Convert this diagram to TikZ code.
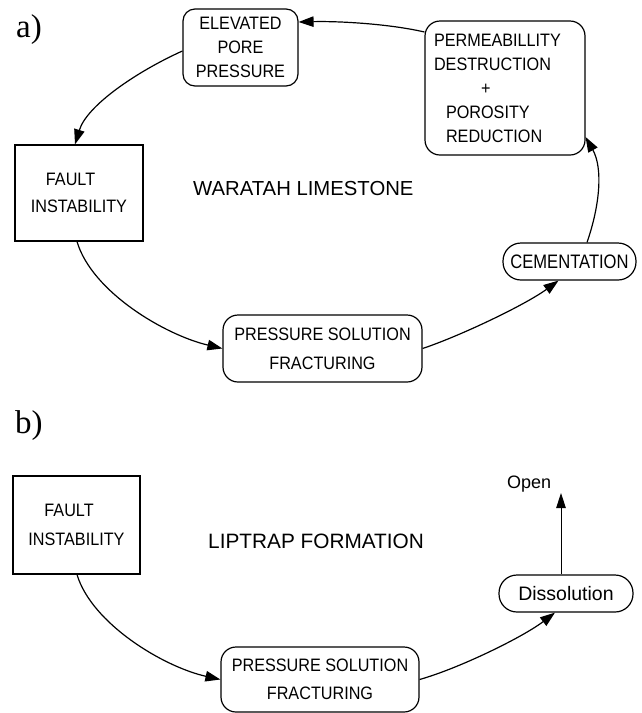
\documentclass[tikz,border=0pt]{standalone}
\usepackage{fontspec}
\setmainfont{Liberation Sans}
\newfontfamily\labelserif{Liberation Serif}
\newfontfamily\narrowsans[FakeStretch=0.9]{Liberation Sans}
\newfontfamily\tightsans[FakeStretch=0.85]{Liberation Sans}
\usetikzlibrary{arrows.meta}

\tikzset{
  boxfont/.style={font=\narrowsans\fontsize{18}{#1}\selectfont},
  sqbox/.style={draw, line width=1.2pt, inner sep=0pt},
  rbox/.style={draw, line width=1.2pt, inner sep=0pt, rounded corners=#1},
  rbox/.default=15pt,
  pill/.style={draw, line width=1.2pt, inner sep=0pt, rounded corners=18pt},
  flow/.style={line width=1.2pt, -{Triangle[length=15pt,width=10.5pt]}},
  thinflow/.style={line width=0.9pt, -{Triangle[length=15pt,width=9.5pt]}},
  title/.style={anchor=base west, inner sep=0pt, font=\fontsize{#1}{24}\selectfont},
  partlabel/.style={anchor=base west, inner sep=0pt, font=\labelserif\fontsize{33}{36}\selectfont}
}

\begin{document}
\begin{tikzpicture}[x=1pt, y=-1pt]
\useasboundingbox (0,0) rectangle (642,713);

% ---------- a) Waratah Limestone cycle ----------
\node[partlabel] (labA) at (16,37) {a)};

\node[rbox=12pt, boxfont=24, minimum width=115pt, minimum height=77pt, align=center]
  (elev) at (240.5,47.5) {ELEVATED\\PORE\\PRESSURE};

\node[rbox, boxfont=24, minimum width=160pt, minimum height=134pt,
      text width=142pt, inner xsep=9pt, align=left]
  (perm) at (505,88)
  {PERMEABILLITY\\DESTRUCTION\\\hspace*{47pt}+\\\hspace*{12pt}POROSITY\\\hspace*{12pt}REDUCTION};

\node[sqbox, boxfont=27, minimum width=128pt, minimum height=96pt, align=left]
  (faultA) at (79,193) {\hspace*{15pt}FAULT\\INSTABILITY};

\node[title=20.3] (titleA) at (193,195) {WARATAH LIMESTONE};

\node[pill, font=\tightsans\fontsize{19.5}{22}\selectfont, minimum width=133pt, minimum height=37pt]
  (cem) at (569.5,261.5) {CEMENTATION};

\node[rbox, boxfont=29, minimum width=199pt, minimum height=67pt, align=center]
  (pressA) at (322.5,348.5) {PRESSURE SOLUTION\\FRACTURING};

\draw[flow] ([yshift=-3.5pt]elev.west) .. controls (138,71) and (87,105) .. ([xshift=-4pt]faultA.north);
\draw[flow] ([xshift=-2pt]faultA.south) .. controls (92,292) and (165,335) .. (pressA.west);
\draw[flow] (pressA.east) .. controls (460,336) and (525,305) .. ([xshift=-11pt]cem.south);
\draw[flow] ([xshift=17.5pt]cem.north) .. controls (600,205) and (603,168) .. ([yshift=-49pt]perm.east);
\draw[flow] ([yshift=56pt]perm.west) .. controls (390,24) and (340,21) .. ([yshift=25.5pt]elev.east);

% ---------- b) Liptrap Formation ----------
\node[partlabel] (labB) at (15,433) {b)};

\node[sqbox, boxfont=29, minimum width=127pt, minimum height=98pt, align=left]
  (faultB) at (76.5,525) {\hspace*{16pt}FAULT\\INSTABILITY};

\node[title=20.8] (titleB) at (208,548) {LIPTRAP FORMATION};

\node[anchor=base west, inner sep=0pt, font=\fontsize{18}{20}\selectfont]
  (open) at (507,488) {Open};
\coordinate (opentip) at (561,493);

\node[pill, font=\fontsize{19.5}{22}\selectfont, minimum width=134pt, minimum height=37pt]
  (diss) at (566,593.5) {Dissolution};

\node[rbox, boxfont=28, minimum width=198pt, minimum height=65pt, align=center]
  (pressB) at (320,679.5) {PRESSURE SOLUTION\\FRACTURING};

\draw[flow] ([xshift=0.5pt]faultB.south) .. controls (92,624) and (164,667) .. (pressB.west);
\draw[flow] (pressB.east) .. controls (460,668) and (523,637) .. ([xshift=-11pt]diss.south);
\draw[thinflow] (diss.north -| opentip) -- (opentip);

\end{tikzpicture}
\end{document}
